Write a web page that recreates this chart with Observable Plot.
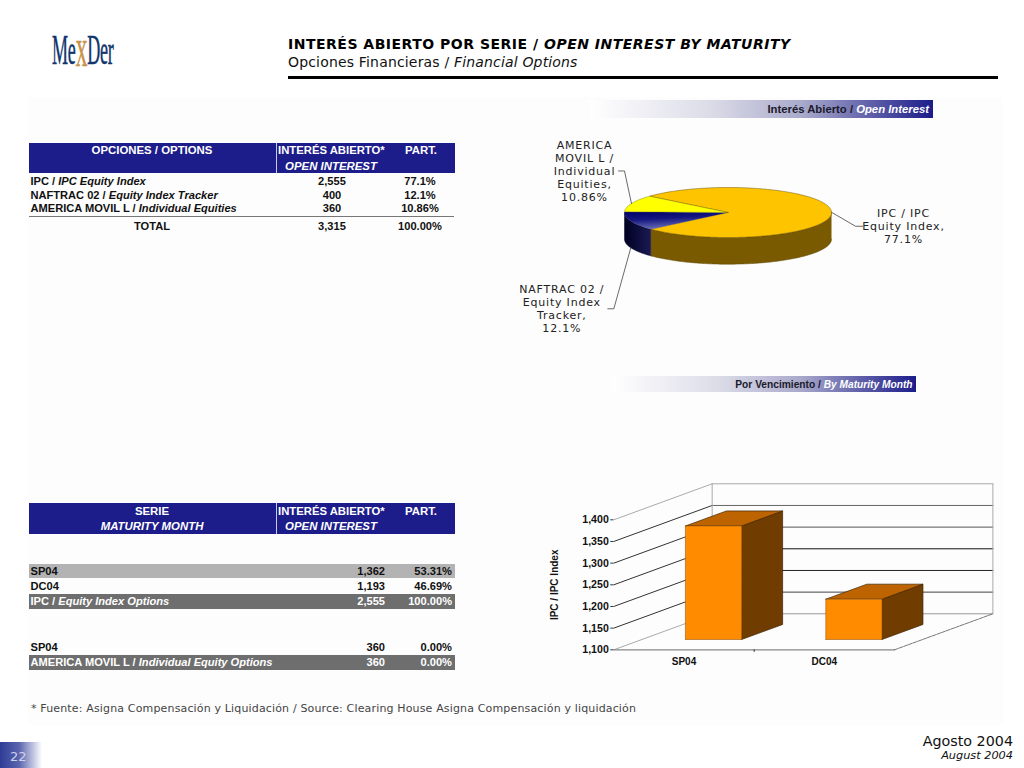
<!DOCTYPE html>
<html><head><meta charset="utf-8">
<script src="https://cdn.jsdelivr.net/npm/d3@7"></script>
<script src="https://cdn.jsdelivr.net/npm/@observablehq/plot@0.6"></script>
<style>
html,body{margin:0;padding:0;background:#fff;width:1024px;height:768px;overflow:hidden}
#page{position:relative;width:1024px;height:768px;overflow:hidden}
.abs{position:absolute}
.t{position:absolute;white-space:nowrap;font-family:"Liberation Sans",Arial,sans-serif;font-weight:bold;font-size:11.1px;color:#111;line-height:1}
svg{overflow:visible}
</style></head><body><div id="page"></div>
<script>
// ---- data ----
const optionNames = [["IPC / ","IPC Equity Index"],["NAFTRAC 02 / ","Equity Index Tracker"],["AMERICA MOVIL L / ","Individual Equities"]];
const optionValues = [2555, 400, 360];
const optionShares = ["77.1%","12.1%","10.86%"];
const optionTotal = ["TOTAL","3,315","100.00%"];
const sliceLabels = ["IPC / IPC\nEquity Index,\n77.1%","NAFTRAC 02 /\nEquity Index\nTracker,\n12.1%","AMERICA\nMOVIL L /\nIndividual\nEquities,\n10.86%"];
const maturities = ["SP04","DC04"];
const maturityValues = [1362, 1193];
const yTicks = [1100,1150,1200,1250,1300,1350,1400];
const serieRows = [
  {name:"SP04", value:"1,362", share:"53.31%", kind:"light"},
  {name:"DC04", value:"1,193", share:"46.69%", kind:"plain"},
  {name:"IPC / <i>Equity Index Options</i>", value:"2,555", share:"100.00%", kind:"total"},
  {name:"SP04", value:"360", share:"0.00%", kind:"plain"},
  {name:"AMERICA MOVIL L / <i>Individual Equity Options</i>", value:"360", share:"0.00%", kind:"total"}
];
// ---- page helpers ----
const page = document.getElementById("page");
function box(l,t,w,h,bg){const d=document.createElement("div");d.className="abs";d.style.cssText=`left:${l}px;top:${t}px;width:${w}px;height:${h}px;background:${bg}`;page.appendChild(d);return d;}
function txt(x,cy,html,o={}){const d=document.createElement("div");d.className="t";d.innerHTML=html;
  const tx=o.align==="center"?"-50%":o.align==="right"?"-100%":"0";
  const y=o.font?cy:cy+.8;
  d.style.cssText=`left:${x}px;top:${y}px;transform:translate(${tx},-50%)`+(o.extra?";"+o.extra:"");
  if(o.size)d.style.fontSize=o.size+"px"; if(o.color)d.style.color=o.color; if(o.weight)d.style.fontWeight=o.weight;
  if(o.font)d.style.fontFamily=o.font; page.appendChild(d);return d;}
const NAVY="#1c1c8a", SANS='"DejaVu Sans",Verdana,sans-serif';
// background panel
box(28,97,975,628,"#fdfdfd");
// logo
txt(51.5,50,'<span style="display:inline-block;transform:scaleX(.43);transform-origin:left center;color:#12356e;font-family:\'Liberation Serif\';font-weight:normal;font-size:42px;letter-spacing:-.5px;-webkit-text-stroke:.5px #12356e">Me<span style="color:#c8924a;-webkit-text-stroke:.5px #c8924a;font-size:1.3em;line-height:0;position:relative;top:2px">x</span>Der</span>',{font:"Liberation Serif"});
// titles
txt(288,44,'INTERÉS ABIERTO POR SERIE / <i>OPEN INTEREST BY MATURITY</i>',{font:SANS,size:14,color:"#000",extra:"letter-spacing:.5px"});
txt(288,62,'Opciones Financieras / <i>Financial Options</i>',{font:SANS,size:14,weight:"normal",color:"#111",extra:"letter-spacing:.17px"});
box(288,75.5,710,3.5,"#000");
// section bars
function band(l,t,w,h,html,right,size){box(l,t,w,h,"linear-gradient(to right,#fff 0%,#dcdce8 35%,#a9a9cc 62%,#1c1c8a 100%)");txt(right,t+h/2,html,{align:"right",size,color:"#1a1a2a"});}
band(590,100,343,18,'Interés Abierto / <i style="color:#fff">Open Interest</i>',929,11.3);
band(612,376,304,16,'Por Vencimiento / <i style="color:#fff">By Maturity Month</i>',912.5,10.2);
// tables
const HS=11.4;
function header(top,a,b){box(29,top,425.5,30.7,NAVY);box(276,top,1,30.7,"#c8c8e0");
  txt(152,top+7.5,a,{align:"center",color:"#fff",size:HS});if(b)txt(152,top+23,b,{align:"center",color:"#fff",size:HS});
  txt(278,top+7.5,"INTERÉS ABIERTO*",{color:"#fff",size:11.3});txt(421,top+7.5,"PART.",{align:"center",color:"#fff",size:HS});
  txt(331,top+23,"<i>OPEN INTEREST</i>",{align:"center",color:"#fff",size:HS});}
header(142.7,"OPCIONES / OPTIONS");
const fmt=d3.format(",");
[181,195,208.5].forEach((cy,i)=>{txt(30.5,cy,optionNames[i][0]+"<i>"+optionNames[i][1]+"</i>");
  txt(332,cy,fmt(optionValues[i]),{align:"center"});txt(420,cy,optionShares[i],{align:"center"});});
box(29,216.3,425,1,"#777");
txt(152,225.7,optionTotal[0],{align:"center"});txt(332,225.7,optionTotal[1],{align:"center"});txt(420,225.7,optionTotal[2],{align:"center"});
header(503.3,"SERIE","<i>MATURITY MONTH</i>");
[571,586,601.5,647,662.5].forEach((cy,i)=>{const r=serieRows[i];const col=r.kind==="total"?"#fff":"#111";
  if(r.kind==="total")box(29,cy-7.5,425.5,15.3,"#6e6e6e");
  if(r.kind==="light")box(29,cy-7,425.5,14.3,"#b3b3b3");
  txt(30.5,cy,r.name,{color:col});txt(385,cy,r.value,{align:"right",color:col});txt(452,cy,r.share,{align:"right",color:col});});
// footers
txt(31,708,"* Fuente: Asigna Compensación y Liquidación / Source: Clearing House Asigna Compensación y liquidación",{font:SANS,size:11,weight:"normal",color:"#444",extra:"letter-spacing:.155px"});
txt(1013,741,"Agosto 2004",{align:"right",font:SANS,size:14.3,weight:"normal",color:"#111"});
txt(1013,756,"<i>August 2004</i>",{align:"right",font:SANS,size:11.3,weight:"normal",color:"#111"});
box(0,742,42,26,"linear-gradient(to right,#2f3c96 0%,#5a64ae 45%,#fff 100%)");
txt(10,755.5,"22",{font:SANS,size:13,weight:"normal",color:"#cfd2e8"});

// ---- pie ----
const total=d3.sum(optionValues);
const startAngle=310.7;
let acc=startAngle;
const slices=optionValues.map((v,i)=>{const a=acc,b=acc+v/total*360;acc=b;return{a,b,mid:(a+b)/2,i};});
const rx=103.5, ry=25, depthPx=26.7, pieDepth=depthPx/ry;
const ptAt=(deg,drop=0)=>({x:Math.sin(deg*Math.PI/180),y:Math.cos(deg*Math.PI/180)-drop});
const arc=(a,b,drop=0)=>{const n=Math.max(2,Math.ceil(Math.abs(b-a)));return d3.range(n+1).map(k=>ptAt(a+(b-a)*k/n,drop));};
const wedge=s=>[{x:0,y:0},...arc(s.a,s.b),{x:0,y:0}];
const rim=(a,b)=>[...arc(a,b),...arc(b,a,pieDepth)];
const [ipc,naf,ame]=slices;
const line=(pts,o)=>Plot.line(pts,{x:"x",y:"y",...o});
const px=(base,dx,dy)=>({x:base.x+dx/rx,y:base.y-dy/ry});
function leader(base,steps){const pts=[base];steps.forEach(([dx,dy])=>pts.push(px(base,dx,dy)));return pts;}
const ipcA=ptAt(ipc.mid), amA=ptAt(ame.mid), nafA=ptAt(naf.mid,pieDepth);
const labelMarks=[[ipc,ipcA,72,13.5],[naf,nafA,-69,60.5],[ame,amA,-47,-32.5]].map(([s,a,dx,dy])=>{const p=px(a,dx,dy);return {x:p.x,y:p.y,t:sliceLabels[s.i]};});
const pie=Plot.plot({width:480,height:230,marginLeft:124,marginRight:149,marginTop:67,marginBottom:113,
  x:{domain:[-1,1],axis:null},y:{domain:[-1,1],axis:null},
  marks:[
    line(rim(90,ipc.b-360),{fill:"#7a5a00",stroke:"#5a4300",strokeWidth:.5}),
    line(rim(naf.a-360,270),{fill:"url(#navySide)",stroke:"#05052a",strokeWidth:.5}),
    line(wedge(ipc),{fill:"#ffc400",stroke:"#6a5200",strokeWidth:.5}),
    line(wedge(naf),{fill:"url(#navyTop)",stroke:"none"}),
    line(wedge(ame),{fill:"#ffff00",stroke:"#6a6a00",strokeWidth:.4}),
    line(leader(ipcA,[[24,14],[31,14]]),{stroke:"#444",strokeWidth:.8}),
    line(leader(amA,[[-7,-32.5],[-13,-32.5]]),{stroke:"#444",strokeWidth:.8}),
    line(leader(nafA,[[-17,61],[-23,61]]),{stroke:"#444",strokeWidth:.8}),
    Plot.text(labelMarks,{x:"x",y:"y",text:"t",lineAnchor:"middle",textAnchor:"middle",lineHeight:1.19,fontSize:11,fontFamily:SANS,fill:"#222",className:"pie-label"})
  ]});
pie.style.cssText="position:absolute;left:500px;top:120px;background:transparent;max-width:none";
d3.select(pie).selectAll(".pie-label text").style("letter-spacing",".8px");
const defs=d3.select(pie).append("defs").lower();
const lg=defs.append("linearGradient").attr("id","navyTop").attr("x1",0).attr("y1",0).attr("x2",.3).attr("y2",1);
lg.append("stop").attr("offset",0).attr("stop-color","#00006a");lg.append("stop").attr("offset",.45).attr("stop-color","#151580");lg.append("stop").attr("offset",1).attr("stop-color","#6a70b8");
const ls=defs.append("linearGradient").attr("id","navySide").attr("x1",0).attr("y1",0).attr("x2",1).attr("y2",0);
ls.append("stop").attr("offset",0).attr("stop-color","#000022");ls.append("stop").attr("offset",1).attr("stop-color","#1a1a55");
page.appendChild(pie);

// ---- 3D bars ----
const wx=.701, wy=83.1;               // depth vector of the box, in x units and index points
const pr=(x,v,d)=>({x:x+d*wx,y:v+d*wy});
const gridColor={1100:"#999",1150:"#444",1200:"#222",1250:"#111",1300:"#555",1350:"#666",1400:"#aaa"};
const sideColor={1100:"#aaa",1150:"#333",1200:"#333",1250:"#333",1300:"#333",1350:"#333",1400:"#aaa"};
const df=.286, db=.703, hw=.2;
const barMarks=[];
maturities.forEach((m,i)=>{const c=i+.51, v=maturityValues[i], l=c-hw, r=c+hw, b=1100;
  const poly=(pts)=>[...pts,pts[0]];
  barMarks.push(line(poly([pr(r,b,df),pr(r,b,db),pr(r,v,db),pr(r,v,df)]),{fill:"#703c00",stroke:"#3d2200",strokeWidth:.7}));
  barMarks.push(line(poly([pr(l,v,df),pr(r,v,df),pr(r,v,db),pr(l,v,db)]),{fill:"#bd6400",stroke:"#3d2200",strokeWidth:.7}));
  barMarks.push(line(poly([pr(l,b,df),pr(r,b,df),pr(r,v,df),pr(l,v,df)]),{fill:"#ff8c00",stroke:"#9a5a10",strokeWidth:.6}));
});
const bars=Plot.plot({width:480,height:210,marginLeft:83.3,marginRight:116,marginTop:49.3,marginBottom:30.7,
  style:{background:"transparent",overflow:"visible"},
  x:{domain:[0,2]},y:{domain:[1100,1400]},
  marks:[
    ...yTicks.map(v=>line([pr(0,v,0),pr(0,v,1)],{stroke:sideColor[v],strokeWidth:1})),
    ...yTicks.map(v=>line([pr(0,v,1),pr(2,v,1)],{stroke:gridColor[v],strokeWidth:1})),
    line([pr(0,1100,1),pr(0,1400,1)],{stroke:"#aaa",strokeWidth:1}),
    line([pr(2,1100,1),pr(2,1400,1)],{stroke:"#aaa",strokeWidth:1}),
    line([pr(0,1100,0),pr(2,1100,0)],{stroke:"#888",strokeWidth:1.2}),
    line([pr(2,1100,0),pr(2,1100,1)],{stroke:"#555",strokeWidth:.8,strokeDasharray:"4 1"}),
    ...barMarks,
    Plot.axisY({ticks:yTicks,tickFormat:d3.format(",.0f"),tickSize:3,tickPadding:2,fontSize:10.6,fontWeight:"bold",fontFamily:"Liberation Sans",stroke:"#333",fill:"#111",label:null}),
    Plot.text(["IPC / IPC Index"],{frameAnchor:"left",dx:-58.8,rotate:-90,textAnchor:"middle",lineAnchor:"middle",fontSize:10,fontWeight:"bold",fontFamily:"Liberation Sans",fill:"#111"}),
    Plot.axisX({ticks:[.5,1.5],tickFormat:i=>maturities[Math.floor(i)],tickSize:0,tickPadding:8,fontSize:10,fontWeight:"bold",fontFamily:"Liberation Sans",fill:"#111",label:null}),
    Plot.ruleX([1],{y1:1100,y2:1094,stroke:"#333"})
  ]});
bars.style.cssText="position:absolute;left:530px;top:470px;background:transparent;max-width:none";
page.appendChild(bars);
</script></body></html>
